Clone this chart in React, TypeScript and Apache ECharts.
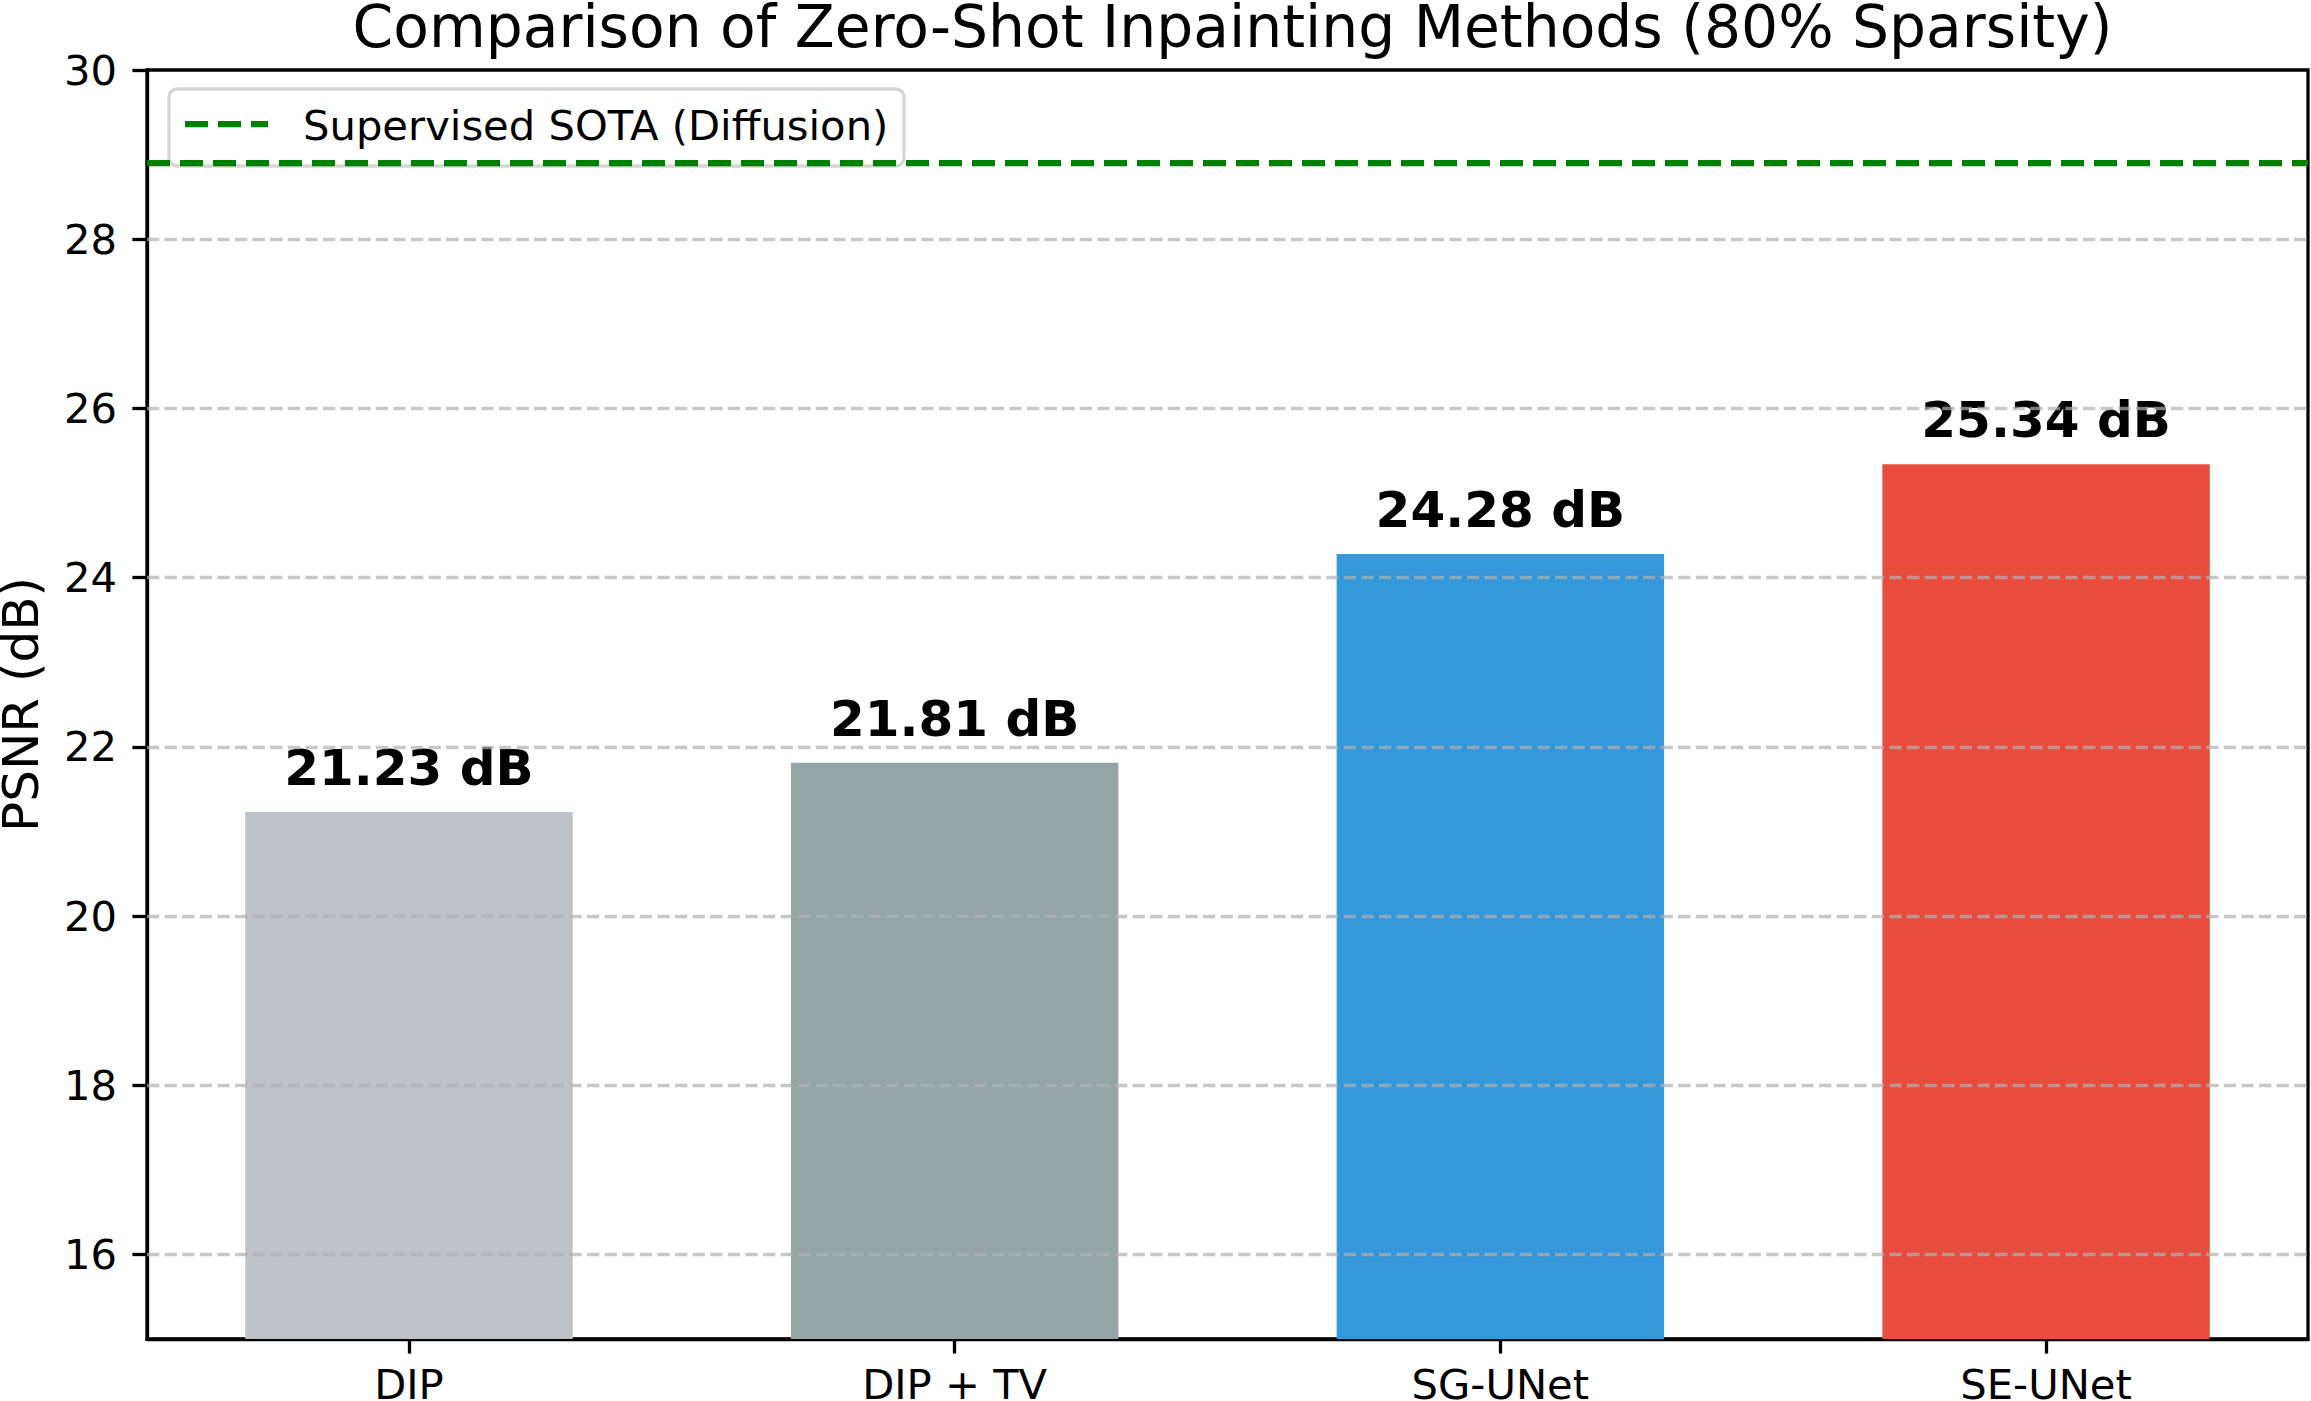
import React, { useEffect, useRef } from "react";
import * as echarts from "echarts";

// Methods and their PSNR scores
const METHODS = ["DIP", "DIP + TV", "SG-UNet", "SE-UNet"];
const PSNR = [21.23, 21.81, 24.28, 25.34];
const BAR_COLORS = ["#bdc3c7", "#95a5a6", "#3498db", "#e74c3c"];

// Reference level for the supervised baseline
const SOTA_PSNR = 28.9;
const SOTA_LABEL = "Supervised SOTA (Diffusion)";

// Axis ticks
const Y_TICKS = [16, 18, 20, 22, 24, 26, 28, 30];
const X_TICKS = [0, 1, 2, 3];
const Y_MIN = 15;
const Y_MAX = 30;
const X_MIN = -0.48;
const X_MAX = 3.48;

const TITLE = "Comparison of Zero-Shot Inpainting Methods (80% Sparsity)";
const Y_NAME = "PSNR (dB)";

const W = 2311;
const H = 1401;
const FONT = "DejaVu Sans";
const GRID = { left: 147, right: 3, top: 70, bottom: 62 };
const PLOT_W = W - GRID.left - GRID.right;
const BAR_WIDTH = (0.6 * PLOT_W) / (X_MAX - X_MIN);
const AXIS_LW = 3.3;

export default function App() {
  const ref = useRef<HTMLDivElement>(null);

  useEffect(() => {
    if (!ref.current) return;
    const chart = echarts.init(ref.current, undefined, { renderer: "svg" });

    const gridLines = Y_TICKS.filter((t) => t < Y_MAX).map((t) => ({
      yAxis: t,
      lineStyle: {
        color: "rgba(176,176,176,0.7)",
        type: [12.3, 5.3],
        width: 3.33,
      },
    }));

    chart.setOption({
      animation: false,
      backgroundColor: "#ffffff",
      title: {
        text: TITLE,
        left: GRID.left + PLOT_W / 2,
        top: -7,
        textAlign: "center",
        textStyle: {
          fontSize: 58.3,
          fontWeight: "normal",
          color: "#000",
          fontFamily: FONT,
        },
      },
      grid: {
        ...GRID,
        show: true,
        borderColor: "#000",
        borderWidth: AXIS_LW,
        backgroundColor: "transparent",
        containLabel: false,
        outerBoundsMode: "none",
      },
      xAxis: {
        type: "value",
        min: X_MIN,
        max: X_MAX,
        axisLine: { show: true, onZero: false, lineStyle: { color: "#000", width: AXIS_LW } },
        axisTick: {
          show: true,
          customValues: X_TICKS,
          length: 14.6,
          lineStyle: { color: "#000", width: AXIS_LW },
        },
        axisLabel: {
          customValues: X_TICKS,
          formatter: (v: number) => METHODS[Math.round(v)] ?? "",
          fontSize: 41.7,
          color: "#000",
          fontFamily: FONT,
          margin: 24,
        },
        splitLine: { show: false },
      },
      yAxis: {
        type: "value",
        min: Y_MIN,
        max: Y_MAX,
        name: Y_NAME,
        nameLocation: "middle",
        nameGap: 101,
        nameTextStyle: { fontSize: 50, color: "#000", fontFamily: FONT },
        axisLine: { show: true, onZero: false, lineStyle: { color: "#000", width: AXIS_LW } },
        axisTick: {
          show: true,
          customValues: Y_TICKS,
          length: 14.6,
          lineStyle: { color: "#000", width: AXIS_LW },
        },
        axisLabel: {
          customValues: Y_TICKS,
          fontSize: 41.7,
          color: "#000",
          fontFamily: FONT,
          margin: 30,
        },
        splitLine: { show: false },
      },
      series: [
        {
          type: "bar",
          barWidth: BAR_WIDTH,
          data: PSNR.map((v, i) => ({
            value: [i, v],
            itemStyle: { color: BAR_COLORS[i] },
          })),
          label: {
            show: true,
            position: "top",
            distance: 19,
            formatter: (p: any) => `${p.value[1].toFixed(2)} dB`,
            fontSize: 50,
            fontWeight: "bold",
            color: "#000",
            fontFamily: FONT,
          },
          markLine: {
            silent: true,
            symbol: ["none", "none"],
            label: { show: false },
            emphasis: { disabled: true },
            data: [
              ...gridLines,
              {
                yAxis: SOTA_PSNR,
                lineStyle: { color: "#008000", type: [23, 10], width: 6.25 },
              },
            ],
          },
        },
      ],
      graphic: [
        {
          type: "group",
          z: 100,
          children: [
            {
              type: "rect",
              shape: { x: 169, y: 89, width: 735, height: 77, r: 8 },
              style: {
                fill: "rgba(255,255,255,0.8)",
                stroke: "rgba(204,204,204,0.8)",
                lineWidth: 3.3,
              },
            },
            {
              type: "line",
              shape: { x1: 185, y1: 124, x2: 268, y2: 124 },
              style: { stroke: "#008000", lineWidth: 6.25, lineDash: [23, 10] },
            },
            {
              type: "text",
              x: 303,
              y: 125,
              style: {
                text: SOTA_LABEL,
                fontSize: 41.7,
                fontFamily: FONT,
                fill: "#000",
                textAlign: "left",
                textVerticalAlign: "middle",
                verticalAlign: "middle",
              },
            },
          ],
        },
      ],
    });

    return () => chart.dispose();
  }, []);

  return (
    <div
      ref={ref}
      style={{ position: "fixed", left: 0, top: 0, width: W, height: H, background: "#fff" }}
    />
  );
}
